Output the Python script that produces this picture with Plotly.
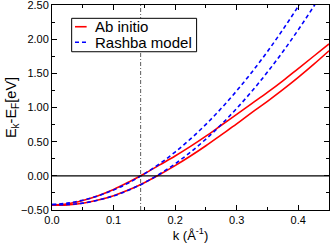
import plotly.graph_objects as go

k = [0.0, 0.025, 0.05, 0.075, 0.1, 0.125, 0.15, 0.175, 0.2, 0.225, 0.25,
     0.275, 0.3, 0.325, 0.35, 0.375, 0.4, 0.425, 0.45]

abinitio_upper = [-0.43, -0.41, -0.36, -0.29, -0.20, -0.09, 0.03, 0.16, 0.29, 0.43,
                  0.58, 0.74, 0.90, 1.06, 1.22, 1.39, 1.57, 1.75, 1.93]
abinitio_lower = [-0.43, -0.425, -0.40, -0.355, -0.29, -0.205, -0.10, 0.02, 0.15, 0.29,
                  0.44, 0.60, 0.76, 0.93, 1.09, 1.26, 1.44, 1.63, 1.83]
rashba_upper = [-0.42, -0.399, -0.356, -0.292, -0.207, -0.100, 0.028, 0.177, 0.348, 0.540,
                0.753, 0.988, 1.244, 1.521, 1.819, 2.139, 2.480, 2.842, 3.226]
rashba_lower = [-0.42, -0.420, -0.399, -0.356, -0.293, -0.207, -0.101, 0.027, 0.176, 0.346,
                0.538, 0.751, 0.986, 1.241, 1.518, 1.816, 2.136, 2.477, 2.839]

series_names = ["Ab initio", "Rashba model"]
series_colors = ["#ff0000", "#0000ff"]
series_dash = ["solid", "4px,3px"]

k_fermi = 0.144

fig = go.Figure()
for ys, idx in [(abinitio_upper, 0), (abinitio_lower, 0), (rashba_upper, 1), (rashba_lower, 1)]:
    fig.add_trace(go.Scatter(x=k, y=ys, mode="lines", name=series_names[idx],
                             showlegend=False, line_shape="spline",
                             line=dict(color=series_colors[idx], width=1.6,
                                       dash=series_dash[idx])))

fig.add_hline(y=0, line=dict(color="black", width=1.2))
fig.add_vline(x=k_fermi, line=dict(color="#333333", width=0.8, dash="4px,2px,1px,2px"))

# legend drawn by hand (box, samples, labels) to match the compact original
fig.add_shape(type="rect", xref="paper", yref="paper", x0=0.071, x1=0.522, y0=0.772, y1=0.935,
              line=dict(color="black", width=1), fillcolor="white", layer="above")
legend_rows_y = [0.894, 0.818]
for i, name in enumerate(series_names):
    fig.add_shape(type="line", xref="paper", yref="paper", x0=0.083, x1=0.125,
                  y0=legend_rows_y[i], y1=legend_rows_y[i],
                  line=dict(color=series_colors[i], width=1.6, dash=series_dash[i]))
    fig.add_annotation(text=name, xref="paper", yref="paper", x=0.147, y=legend_rows_y[i],
                       xanchor="left", yanchor="middle", showarrow=False,
                       font=dict(size=15, color="black", family="Liberation Sans"))

axis_common = dict(showline=True, linecolor="black", linewidth=1, mirror="allticks",
                   ticks="inside", ticklen=5, tickcolor="black", showgrid=False,
                   zeroline=False, automargin=False, ticklabeloverflow="allow",
                   tickfont=dict(size=11, color="black", family="Liberation Sans"))

fig.update_xaxes(range=[0, 0.45], dtick=0.1, tick0=0, tickformat=".1f",
                 minor=dict(dtick=0.05, ticks="inside", ticklen=3, tickcolor="black"),
                 title=dict(text="k (Å<sup>-1</sup>)", font=dict(size=13, color="black",
                            family="Liberation Sans"), standoff=2),
                 **axis_common)
fig.update_yaxes(range=[-0.5, 2.5], dtick=0.5, tick0=0, tickformat=".2f",
                 minor=dict(dtick=0.25, ticks="inside", ticklen=3, tickcolor="black"),
                 title=dict(text="E<sub>k</sub>-E<sub>F</sub>[eV]",
                            font=dict(size=14.5, color="black", family="Liberation Sans"),
                            standoff=0),
                 **axis_common)

fig.update_layout(
    width=332, height=245,
    margin=dict(l=52, r=3, t=5, b=35),
    plot_bgcolor="white", paper_bgcolor="white",
    showlegend=False,
)

fig.write_html("out.html", config={"displayModeBar": False},
               post_script="document.body.style.margin='0';document.body.style.padding='0';")
